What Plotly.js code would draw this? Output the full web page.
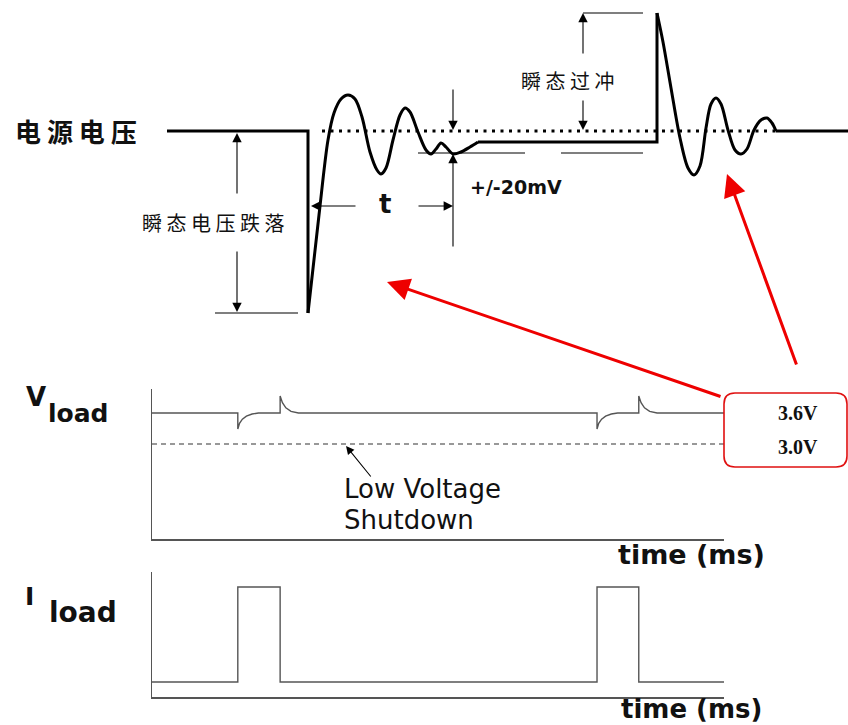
<!DOCTYPE html>
<html><head><meta charset="utf-8">
<script src="https://cdn.plot.ly/plotly-3.0.1.min.js"></script>
<style>html,body{margin:0;padding:0;background:#fff}</style>
</head><body>
<div id="chart" style="width:848px;height:725px"></div>
<script>
// ---------- Top transient diagram (drawing-space units) ----------
const dropX = [167, 308, 308];
const dropY = [131, 131, 313];
const ring1X = [308, 319, 328, 334, 341, 348, 355, 362, 370, 377, 381, 386, 393, 400, 405, 410, 418, 426, 431, 436, 441, 446, 453, 461, 470, 478];
const ring1Y = [313, 215, 140, 113, 99, 95, 99, 117, 152, 170, 174, 168, 140, 115, 108, 112, 132, 150, 154, 149, 143, 147, 154, 152, 147, 142];
const stepX = [478, 657, 657];
const stepY = [142, 142, 13];
const ring2X = [657, 663, 671, 680, 688, 694, 700, 706, 711, 716, 721, 728, 735, 741, 747, 754, 761, 767, 772, 776];
const ring2Y = [13, 42, 88, 138, 168, 175, 166, 128, 104, 98, 104, 130, 150, 154, 149, 130, 120, 118, 123, 131];
const tailX = [776, 848];
const tailY = [131, 131];
const nominalX = [322, 776];
const nominalY = [131, 131];

// ---------- Vload chart (time ms, volts) ----------
const vTime = [0, 15, 15, 15.3, 15.8, 16.5, 17.5, 18.6, 22.4, 22.4, 22.8, 23.4, 24.3, 25.6,
               77.8, 77.8, 78.1, 78.6, 79.3, 80.3, 81.4, 85.1, 85.1, 85.5, 86.1, 87.0, 88.3, 100];
const vLoad = [3.6, 3.6, 3.29, 3.40, 3.48, 3.54, 3.58, 3.6, 3.6, 3.93, 3.80, 3.70, 3.63, 3.6,
               3.6, 3.29, 3.40, 3.48, 3.54, 3.58, 3.6, 3.6, 3.93, 3.80, 3.70, 3.63, 3.6, 3.6];
const lvTime = [0, 100];
const lvVolt = [3.0, 3.0];

// ---------- Iload chart (time ms, relative current) ----------
const iTime = [0, 15, 15, 22.4, 22.4, 77.8, 77.8, 85.1, 85.1, 100];
const iLoad = [0.12, 0.12, 0.88, 0.88, 0.12, 0.12, 0.88, 0.88, 0.12, 0.12];

const labelVolts = ['3.6V', '3.0V'];

const blk = '#000';
const traces = [
  {x: nominalX, y: nominalY, xaxis: 'x', yaxis: 'y', mode: 'lines', line: {color: blk, width: 3, dash: '3px,5.5px'}},
  {x: dropX, y: dropY, xaxis: 'x', yaxis: 'y', mode: 'lines', line: {color: blk, width: 3}},
  {x: ring1X, y: ring1Y, xaxis: 'x', yaxis: 'y', mode: 'lines', line: {color: blk, width: 3, shape: 'spline', smoothing: 0.9}},
  {x: stepX, y: stepY, xaxis: 'x', yaxis: 'y', mode: 'lines', line: {color: blk, width: 3}},
  {x: ring2X, y: ring2Y, xaxis: 'x', yaxis: 'y', mode: 'lines', line: {color: blk, width: 3, shape: 'spline', smoothing: 0.9}},
  {x: tailX, y: tailY, xaxis: 'x', yaxis: 'y', mode: 'lines', line: {color: blk, width: 3}},
  {x: lvTime, y: lvVolt, xaxis: 'x2', yaxis: 'y2', mode: 'lines', line: {color: '#777', width: 1.5, dash: '5px,4px'}},
  {x: vTime, y: vLoad, xaxis: 'x2', yaxis: 'y2', mode: 'lines', line: {color: '#555', width: 1.4}},
  {x: iTime, y: iLoad, xaxis: 'x3', yaxis: 'y3', mode: 'lines', line: {color: '#555', width: 1.4}}
];

function seg(x0, y0, x1, y1, color, w) {
  return {type: 'line', xref: 'x', yref: 'y', x0: x0, y0: y0, x1: x1, y1: y1, line: {color: color, width: w}};
}
function arrow(tx, ty, fx, fy, color, w, size) {
  return {x: tx, y: ty, ax: fx, ay: fy, xref: 'x', yref: 'y', axref: 'x', ayref: 'y', text: '',
    showarrow: true, arrowhead: 2, arrowsize: size, arrowwidth: w, arrowcolor: color, standoff: 0, startstandoff: 0};
}
function txt(x, y, t, size, family, opts) {
  return Object.assign({x: x, y: y, xref: 'x', yref: 'y', text: t, showarrow: false,
    font: {size: size, family: family, color: '#111'}}, opts || {});
}

const cjk = '"Noto Sans CJK SC", sans-serif';
const sans = '"DejaVu Sans", sans-serif';
const serif = '"Liberation Serif", "Times New Roman", serif';

const shapes = [
  seg(418, 153, 525, 153, blk, 1.2),
  seg(561, 153, 643, 153, blk, 1.2),
  seg(215, 313, 298, 313, blk, 1.2),
  seg(583, 13, 643, 13, blk, 1.2),
  {type: 'path', xref: 'x', yref: 'y',
   path: 'M 735 393 L 836 393 Q 847 393 847 404 L 847 456 Q 847 467 836 467 L 735 467 Q 724 467 724 456 L 724 404 Q 724 393 735 393 Z',
   line: {color: '#e01010', width: 1.6}, fillcolor: 'rgba(255,255,255,1)'}
];

const annotations = [
  arrow(237, 133, 237, 195, blk, 1.1, 1.7),
  arrow(237, 312, 237, 250, blk, 1.1, 1.7),
  arrow(311, 206, 357, 206, blk, 1.1, 1.7),
  arrow(453, 206, 417, 206, blk, 1.1, 1.7),
  arrow(453, 130, 453, 88, blk, 1.1, 1.7),
  arrow(453, 154, 453, 248, blk, 1.1, 1.7),
  arrow(583, 13, 583, 55, blk, 1.1, 1.7),
  arrow(583, 130, 583, 99, blk, 1.1, 1.7),
  arrow(387, 282, 722, 397, '#ee0000', 3, 1.5),
  arrow(727, 174, 797, 366, '#ee0000', 3, 1.5),
  arrow(346, 446, 372, 478, blk, 1.1, 1.5),
  txt(76, 130, '电 源 电 压', 26, cjk, {font: {size: 26, family: cjk, color: '#111', weight: 'bold'}}),
  txt(213, 222, '瞬 态 电 压 跌 落', 20, cjk),
  txt(567, 80, '瞬 态 过 冲', 20, cjk),
  txt(385, 204, '<b>t</b>', 26, sans),
  txt(516, 187, '<b>+/-20mV</b>', 19, sans),
  txt(798, 413, '<b>' + labelVolts[0] + '</b>', 20, serif),
  txt(798, 447, '<b>' + labelVolts[1] + '</b>', 20, serif),
  txt(342, 489, 'Low Voltage', 26, sans, {xanchor: 'left'}),
  txt(342, 520, 'Shutdown', 26, sans, {xanchor: 'left'}),
  txt(691, 554, '<b>time (ms)</b>', 27, sans),
  txt(691, 725, '<b>time (ms)</b>', 26, sans, {yanchor: 'bottom', borderpad: 0}),
  txt(36, 397, '<b>V</b>', 26, sans),
  txt(46, 413, '<b>load</b>', 25, sans, {xanchor: 'left'}),
  txt(29, 596, '<b>I</b>', 25, sans),
  txt(47, 612, '<b>load</b>', 28, sans, {xanchor: 'left'})
];

const noAx = {visible: false, showgrid: false, zeroline: false, fixedrange: true};
const plotAx = {showline: true, linecolor: '#555', linewidth: 1.5, showgrid: false, zeroline: false, showticklabels: false, ticks: ''};
const layout = {
  width: 848, height: 725,
  margin: {l: 0, r: 0, t: 0, b: 0},
  paper_bgcolor: '#fff', plot_bgcolor: 'rgba(0,0,0,0)',
  showlegend: false,
  xaxis: Object.assign({}, noAx, {range: [0, 848], domain: [0, 1], anchor: 'y'}),
  yaxis: Object.assign({}, noAx, {range: [725, 0], domain: [0, 1], anchor: 'x'}),
  xaxis2: Object.assign({}, plotAx, {domain: [152/848, 724/848], range: [0, 100], anchor: 'y2'}),
  yaxis2: Object.assign({}, plotAx, {domain: [186/725, 336/725], range: [1.161, 4.064], anchor: 'x2'}),
  xaxis3: Object.assign({}, plotAx, {domain: [152/848, 724/848], range: [0, 100], anchor: 'y3'}),
  yaxis3: Object.assign({}, plotAx, {domain: [28/725, 153/725], range: [0, 1], anchor: 'x3'}),
  shapes: shapes,
  annotations: annotations
};

Plotly.newPlot('chart', traces, layout, {staticPlot: true, displayModeBar: false});
</script>
</body></html>
